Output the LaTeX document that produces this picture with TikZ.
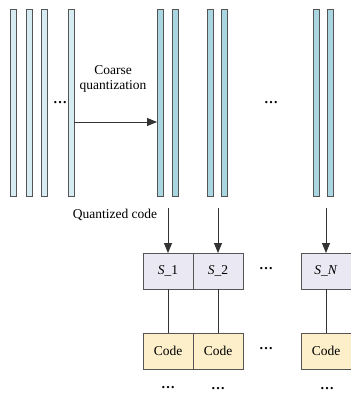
\documentclass[tikz,border=0pt]{standalone}
\usepackage{fontspec}
\setmainfont{Liberation Serif}
\usetikzlibrary{arrows.meta}
\definecolor{vecfill}{RGB}{214,236,242}
\definecolor{clufill}{RGB}{170,214,226}
\definecolor{subfill}{RGB}{234,232,242}
\definecolor{codefill}{RGB}{252,239,202}
\definecolor{edge}{RGB}{85,85,85}
\begin{document}
\begin{tikzpicture}[x=1pt,y=-1pt,
  font=\fontsize{13.5}{15}\selectfont,
  bar/.style={draw=edge, line width=0.8pt, fill=#1, minimum width=6pt,
    minimum height=187pt, inner sep=0pt, outer sep=0pt},
  bar/.default=vecfill,
  cell/.style={draw=edge, line width=0.8pt, fill=#1, minimum width=50pt,
    minimum height=36pt, inner sep=0pt, outer sep=0pt},
  link/.style={draw=black!80, line width=0.9pt},
  arr/.style={link, -{Triangle[length=10pt,width=8pt]}},
  dots/.style={inner sep=0pt, font=\fontsize{14}{15}\selectfont\bfseries}]
\useasboundingbox (0,0) rectangle (351,394);
\clip (0,0) rectangle (351,394);

% input vectors
\node[bar] (a1) at (13,102.5) {};
\node[bar] (a2) at (29,102.5) {};
\node[bar] (a3) at (44,102.5) {};
\node[bar] (a4) at (71,102.5) {};
\node[dots] (adots) at (60,103) {\textellipsis};

% coarse clusters
\node[bar=clufill] (b1) at (160,102.5) {};
\node[bar=clufill] (b2) at (175,102.5) {};
\node[bar=clufill] (b3) at (210,102.5) {};
\node[bar=clufill] (b4) at (224,102.5) {};
\node[bar=clufill] (b5) at (316,102.5) {};
\node[bar=clufill] (b6) at (330,102.5) {};
\node[dots] (bdots) at (271,103) {\textellipsis};

\node[align=center, inner sep=0pt] (coarse) at (113,79) {Coarse\\quantization};
\draw[arr] ([yshift=-19.5pt]a4.east) -- ([yshift=-19.5pt]b1.west);

% sub-spaces
\node[cell=subfill] (s1) at (168,271) {\textit{S}\_1};
\node[cell=subfill] (s2) at (218,271) {\textit{S}\_2};
\node[cell=subfill] (s3) at (326,271) {\textit{S}\_\textit{N}};
\node[dots] (sdots) at (266,269) {\textellipsis};

\node[inner sep=0pt] (qc) at (115,215) {Quantized code};
\coordinate (q1) at (168,208);
\coordinate (q2) at (218,208);
\coordinate (q3) at (326,208);
\draw[arr] (q1) -- (s1.north);
\draw[arr] (q2) -- (s2.north);
\draw[arr] (q3) -- (s3.north);

% codes
\node[cell=codefill] (c1) at (168,351) {Code};
\node[cell=codefill] (c2) at (218,351) {Code};
\node[cell=codefill] (c3) at (326,351) {Code};
\node[dots] (cdots) at (266,349) {\textellipsis};
\draw[link] (s1) -- (c1);
\draw[link] (s2) -- (c2);
\draw[link] (s3) -- (c3);

\node[dots] (d1) at (168,388) {\textellipsis};
\node[dots] (d2) at (218,389) {\textellipsis};
\node[dots] (d3) at (327,389) {\textellipsis};
\end{tikzpicture}
\end{document}
